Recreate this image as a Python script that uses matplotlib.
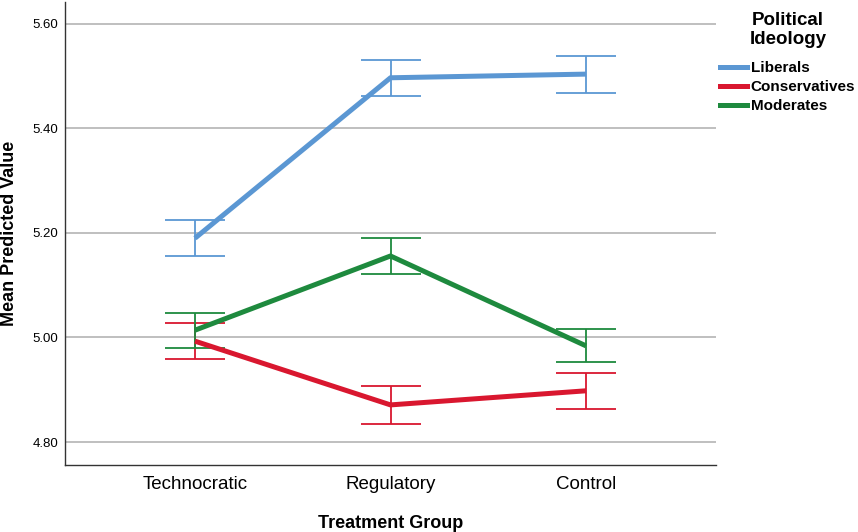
import matplotlib
matplotlib.use("Agg")
import matplotlib.pyplot as plt
from matplotlib.lines import Line2D

plt.rcParams['font.family'] = ['Liberation Sans', 'DejaVu Sans']

groups = ["Technocratic", "Regulatory", "Control"]
series = ["Liberals", "Conservatives", "Moderates"]
means = {
    "Liberals": [5.190, 5.497, 5.504],
    "Conservatives": [4.993, 4.871, 4.898],
    "Moderates": [5.014, 5.156, 4.984],
}
upper = {
    "Liberals": [5.225, 5.531, 5.539],
    "Conservatives": [5.028, 4.907, 4.933],
    "Moderates": [5.047, 5.190, 5.016],
}
lower = {
    "Liberals": [5.156, 5.462, 5.468],
    "Conservatives": [4.958, 4.834, 4.864],
    "Moderates": [4.980, 5.122, 4.953],
}
colors = {"Liberals": "#5B97D3", "Conservatives": "#D9172F", "Moderates": "#1E8A3E"}
yticks = [4.80, 5.00, 5.20, 5.40, 5.60]

fig = plt.figure(figsize=(8.58, 5.32), dpi=100)
ax = fig.add_axes([65/858, 1-465/532, (716-65)/858, (465-2)/532])

x = list(range(len(groups)))
for s in series:
    m = means[s]
    lo = [m[i] - lower[s][i] for i in x]
    hi = [upper[s][i] - m[i] for i in x]
    ax.errorbar(x, m, yerr=[lo, hi], fmt='none', ecolor=colors[s], elinewidth=1.3,
                capsize=21.5, capthick=1.3, zorder=3)
    ax.plot(x, m, color=colors[s], lw=3.6, solid_capstyle='butt', zorder=4)

ax.set_xlim(-0.665, 2.665)
ax.set_ylim(4.756, 5.642)
ax.set_yticks(yticks)
ax.set_yticklabels([f"{v:.2f}" for v in yticks], fontsize=9.5)
ax.set_xticks(x)
ax.set_xticklabels(groups, fontsize=13.5)
ax.tick_params(axis='both', length=0)
ax.tick_params(axis='x', pad=8)
ax.tick_params(axis='y', pad=5)
ax.yaxis.grid(True, color='#b4b4b4', lw=1.2)
ax.set_axisbelow(True)
for sp in ['top', 'right']:
    ax.spines[sp].set_visible(False)
for sp in ['left', 'bottom']:
    ax.spines[sp].set_color('#333333')
    ax.spines[sp].set_linewidth(1.0)

ax.set_xlabel("Treatment Group", fontsize=13, fontweight='bold', labelpad=16)
ax.set_ylabel("Mean Predicted Value", fontsize=13, fontweight='bold')
ax.yaxis.set_label_coords(-47/651, 0.5)

fig.text(788/858, 1-30/532, "Political\nIdeology", ha='center', va='center',
         fontsize=13.5, fontweight='bold', multialignment='center', linespacing=1.15)

handles = [Line2D([0], [0], color=colors[s], lw=3.6) for s in series]
leg = fig.legend(handles, series, loc='upper left', bbox_to_anchor=(720/858, 1-61/532),
                 frameon=False,
                 prop={'weight': 'bold', 'size': 11}, handlelength=1.75,
                 handletextpad=0.25, labelspacing=0.33, borderpad=0, borderaxespad=0)

fig.savefig("out.png", dpi=100)
